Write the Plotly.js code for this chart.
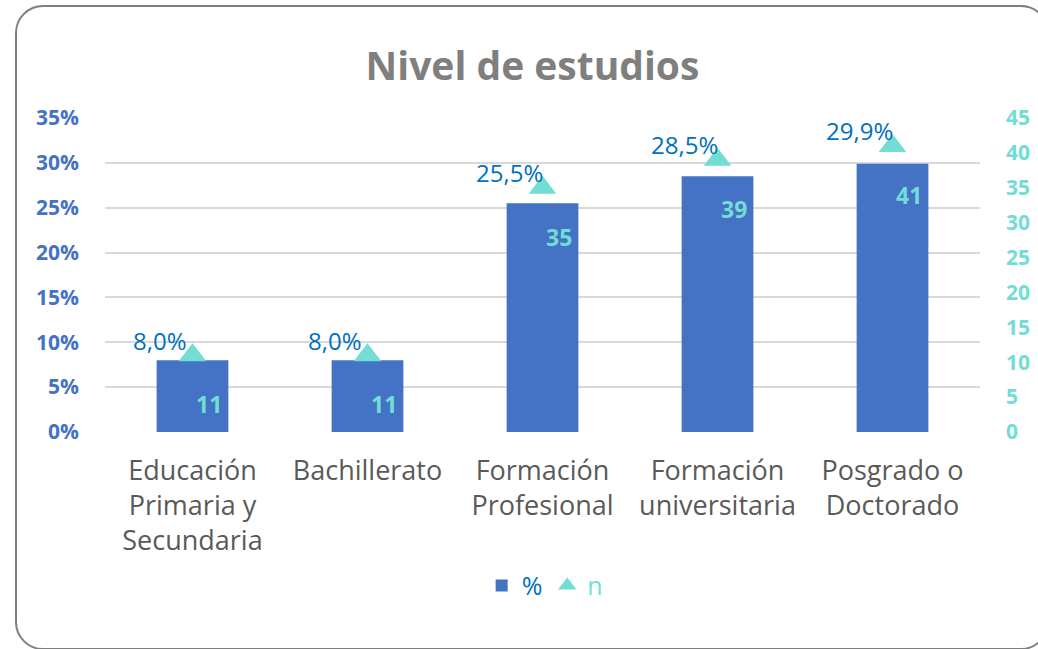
<!DOCTYPE html>
<html>
<head>
<meta charset="utf-8">
<script src="https://cdn.plot.ly/plotly-3.0.1.min.js"></script>
<style>
  html, body { margin: 0; padding: 0; background: #fff; }
  #wrap { position: relative; width: 1038px; height: 649px; overflow: hidden; }
  #chart { position: absolute; left: 0; top: 0; width: 1038px; height: 649px; }
  #frame { position: absolute; left: 15px; top: 5px; width: 1030px; height: 641px;
           border: 2px solid #7f7f7f; border-radius: 28px; pointer-events: none; }
</style>
</head>
<body>
<div id="wrap">
  <div id="chart"></div>
  <div id="frame"></div>
</div>
<script>
const categories = ["Educación Primaria y Secundaria", "Bachillerato", "Formación Profesional", "Formación universitaria", "Posgrado o Doctorado"];
const tickLabels = ["Educación<br>Primaria y<br>Secundaria", "Bachillerato", "Formación<br>Profesional", "Formación<br>universitaria", "Posgrado o<br>Doctorado"];
const pctValues = [8.0, 8.0, 25.5, 28.5, 29.9];
const pctLabels = ["8,0%", "8,0%", "25,5%", "28,5%", "29,9%"];
const nValues = [11, 11, 35, 39, 41];
const leftTicks = [0, 5, 10, 15, 20, 25, 30, 35];
const rightTicks = [0, 5, 10, 15, 20, 25, 30, 35, 40, 45];

const BLUE = "#4472C4";
const LABEL_BLUE = "#0070C0";
const TEAL = "#72DDD4";

const traces = [
  {
    type: "bar", x: categories, y: pctValues, name: '<span style="color:#0070C0">%</span>',
    marker: { color: BLUE }, yaxis: "y", hoverinfo: "skip"
  },
  {
    type: "scatter", mode: "markers", x: categories, y: nValues, name: '<span style="color:#72DDD4">n</span>',
    yaxis: "y2",
    marker: { symbol: "triangle-up", size: 24, color: TEAL, line: { width: 0 } },
    hoverinfo: "skip"
  }
];

const annotations = [];
categories.forEach((c, i) => {
  annotations.push({
    x: c, y: nValues[i], xref: "x", yref: "y2", text: pctLabels[i], showarrow: false,
    xshift: -33, yshift: 15, font: { family: "Open Sans", size: 24, color: LABEL_BLUE }
  });
  annotations.push({
    x: c, y: nValues[i], xref: "x", yref: "y2", text: "<b>" + nValues[i] + "</b>", showarrow: false,
    xshift: 16, yshift: -49, font: { family: "Open Sans", size: 23, color: TEAL }
  });
});

const layout = {
  width: 1038, height: 649,
  margin: { l: 105, r: 58, t: 118, b: 217 },
  paper_bgcolor: "rgba(0,0,0,0)", plot_bgcolor: "rgba(0,0,0,0)",
  title: {
    text: "<b>Nivel de estudios</b>", x: 0.513, xanchor: "center", y: 0.897, yanchor: "middle",
    font: { family: "Open Sans", size: 39, color: "#7f7f7f" }
  },
  bargap: 0.59,
  showlegend: true,
  legend: {
    orientation: "h", x: 0.503, xanchor: "center", y: -0.49, yanchor: "middle",
    font: { family: "Open Sans", size: 25 }, itemwidth: 30, tracegroupgap: 0
  },
  xaxis: {
    tickmode: "array", tickvals: categories, ticktext: tickLabels,
    tickfont: { family: "Open Sans", size: 27, color: "#595959" },
    showline: false, showgrid: false, ticks: "", ticklabelstandoff: 20, automargin: false
  },
  yaxis: {
    range: [0, 35], tickmode: "array", tickvals: leftTicks, ticktext: leftTicks.map(v => v + "%"),
    tickfont: { family: "Open Sans", size: 21, color: BLUE, weight: "bold" },
    gridcolor: "#d9d9d9", gridwidth: 2, zeroline: false, showline: false,
    ticklabelstandoff: 25, automargin: false, fixedrange: true
  },
  yaxis2: {
    range: [0, 45], overlaying: "y", side: "right", tickmode: "array", tickvals: rightTicks,
    tickfont: { family: "Open Sans", size: 21, color: TEAL, weight: "bold" },
    showgrid: false, zeroline: false, showline: false,
    ticklabelstandoff: 25, automargin: false, fixedrange: true
  },
  annotations: annotations
};

Plotly.newPlot("chart", traces, layout, { staticPlot: true, displayModeBar: false });
</script>
</body>
</html>
